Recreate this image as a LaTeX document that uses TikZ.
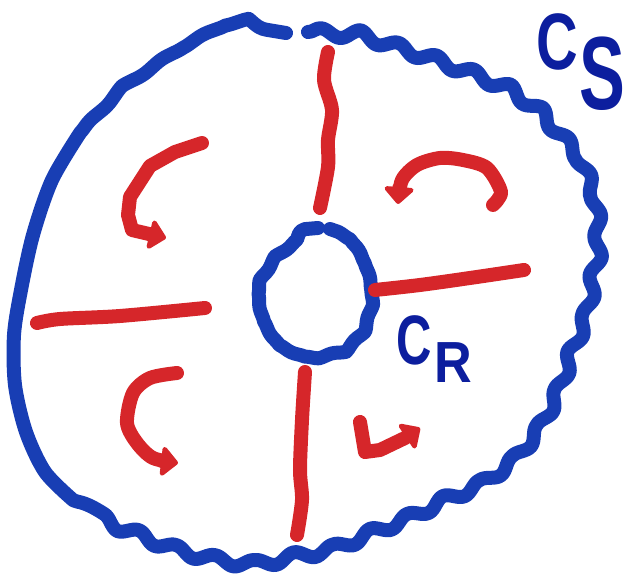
\documentclass[tikz,border=0pt]{standalone}
\usepackage{graphicx}
\usepackage{fontspec}
\setmainfont{Liberation Sans}
\usetikzlibrary{decorations.pathmorphing,arrows.meta}
\definecolor{penblue}{RGB}{24,62,180}
\definecolor{inkblue}{RGB}{12,30,158}
\definecolor{penred}{RGB}{214,38,42}
\tikzset{
  bluestroke/.style={draw=penblue,line width=7pt,line cap=round,line join=round},
  lumpy/.style={decorate,decoration={snake,amplitude=0.45pt,segment length=14pt}},
  redstroke/.style={draw=penred,line width=7pt,line cap=round,line join=round},
  redarrow/.style={redstroke,-{Triangle[length=9pt,width=17pt,round]}},
  lbl/.style={text=inkblue,font=\bfseries,inner sep=0pt,anchor=base west}
}
\begin{document}
\begin{tikzpicture}[x=0.5pt,y=-0.5pt]
\useasboundingbox (0,0) rectangle (629,581);
% outer boundary C_S
\draw[bluestroke] (308,32)
  decorate[decoration={snake,amplitude=2.2pt,segment length=20pt}] {
  -- (348,34) -- (384,46) -- (420,58) -- (460,73) -- (504,91) -- (540,117) -- (568,150)
  -- (584,190) -- (588,230) -- (586,262) -- (578,305) -- (562,345) -- (550,380) -- (530,420)
  -- (500,458) -- (470,480) -- (440,493) -- (400,513) -- (370,525) -- (330,542) -- (290,550)
  -- (250,558) -- (210,553) -- (160,540) -- (110,520) -- (73,500)}
  -- plot[smooth] coordinates {(73,500) (45,472) (26,432) (15,385) (14,335) (21,290) (33,235) (52,180) (80,133)}
  decorate[decoration={snake,amplitude=0.6pt,segment length=24pt}] {
  -- (120,90) -- (172,55) -- (212,34) -- (250,27) -- (286,33)};
% inner boundary C_R
\draw[bluestroke,lumpy] plot coordinates {
 (330,229) (347,237) (358,255) (364,280) (364,302) (357,326) (340,344)
 (315,350) (290,350) (268,340) (255,320) (250,295) (255,270) (268,250)
 (285,237) (305,229) (318,228)};
% red cuts
\draw[redstroke] plot[smooth] coordinates {(328,52) (324,80) (332,110) (328,140) (328,167) (320,208)};
\draw[redstroke] plot[smooth] coordinates {(375,290) (420,285) (470,278) (524,270)};
\draw[redstroke] plot[smooth] coordinates {(37,323) (60,319) (120,316) (205,308)};
\draw[redstroke] plot[smooth] coordinates {(305,372) (302,420) (300,470) (302,500) (297,535)};
% red circulation arrows
\draw[redarrow] plot coordinates {(202,143) (175,152) (150,166) (130,197) (128,215) (132,230) (166,238)};
\draw[redarrow] plot[smooth] coordinates {(493,205) (501,192) (487,168) (463,160) (440,158) (417,165) (402,180) (398,204)};
\draw[redarrow] plot[smooth] coordinates {(177,373) (150,378) (133,393) (127,423) (137,443) (153,458) (178,463)};
\draw[redarrow] plot coordinates {(360,422) (365,452) (380,450) (405,438) (420,428)};
% labels
\node[lbl] (cs) at (536,70) {\scalebox{0.72}[1]{\fontsize{40}{40}\selectfont C}};
\node[lbl] (cs-sub) at (579,110) {\scalebox{0.66}[1]{\fontsize{52}{52}\selectfont S}};
\node[lbl] (cr) at (396,365) {\scalebox{0.7}[1]{\fontsize{35}{35}\selectfont C}};
\node[lbl] (cr-sub) at (434,383) {\scalebox{0.9}[1]{\fontsize{29}{29}\selectfont R}};
\end{tikzpicture}
\end{document}
